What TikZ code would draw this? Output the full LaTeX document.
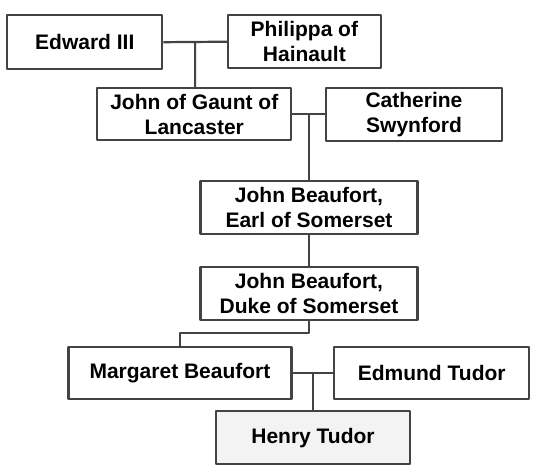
\documentclass[tikz,border=0pt]{standalone}
\usepackage{fontspec}
\setmainfont{Liberation Sans}
\usetikzlibrary{calc}
\definecolor{edgegray}{HTML}{434343}
\definecolor{henryfill}{HTML}{F3F3F3}
\begin{document}
\begin{tikzpicture}[x=1pt,y=1pt,line join=round,
 person/.style={draw=edgegray,line width=2.2pt,fill=white,align=center,inner sep=0pt,
  font=\bfseries\fontsize{21}{25}\selectfont},
 link/.style={draw=edgegray,line width=2.2pt}]
 \useasboundingbox (0,0) rectangle (536,-474);
 % generation by generation
 \node[person,minimum width=155pt,minimum height=54pt] (edw) at (84.8,-42.2) {Edward III};
 \node[person,minimum width=153pt,minimum height=53pt] (phi) at (304.4,-41.7) {Philippa of\\Hainault};
 \node[person,minimum width=194pt,minimum height=52pt] (gau) at (194.3,-114.2) {John of Gaunt of\\Lancaster};
 \node[person,minimum width=176pt,minimum height=53pt] (cat) at (414,-114.2) {Catherine\\Swynford};
 \node[person,minimum width=217pt,minimum height=53pt] (earl) at (309,-207.6) {John Beaufort,\\Earl of Somerset};
 \node[person,minimum width=217pt,minimum height=53pt] (duke) at (309,-293.3) {John Beaufort,\\Duke of Somerset};
 \node[person,minimum width=223pt,minimum height=52pt] (mar) at (180,-372.8) {Margaret Beaufort};
 \node[person,minimum width=195pt,minimum height=52pt] (edm) at (431.7,-372.8) {Edmund Tudor};
 \node[person,fill=henryfill,minimum width=194pt,minimum height=53pt] (hen) at (313,-437.6) {Henry Tudor};
 % marriages and children
 \coordinate (m1) at ($(edw.east)!0.5!(phi.west)$);
 \coordinate (m2) at ($(gau.east)!0.5!(cat.west)$);
 \coordinate (m3) at ($(mar.east)!0.5!(edm.west)$);
 \draw[link] (edw.east)--(phi.west) (m1)--(m1|-gau.north);
 \draw[link] (gau.east)--(cat.west) (m2)--(m2|-earl.north);
 \draw[link] (earl.south)--(duke.south|-duke.north);
 \draw[link] (duke.south)--++(0,-12)-|(mar.north);
 \draw[link] (mar.east)--(edm.west) (m3)--(m3|-hen.north);
\end{tikzpicture}
\end{document}
